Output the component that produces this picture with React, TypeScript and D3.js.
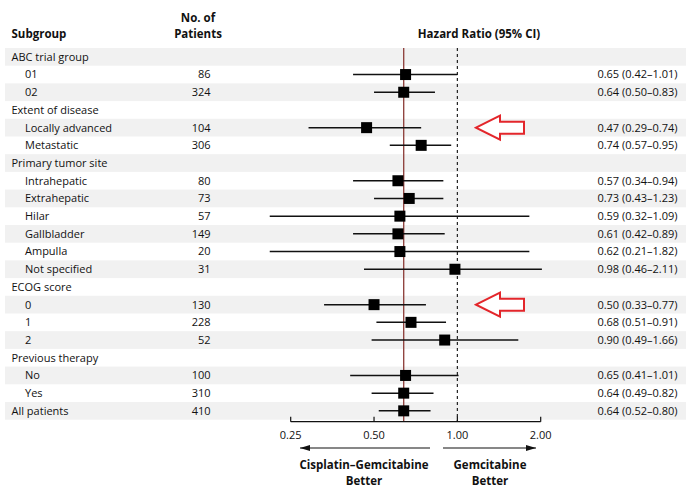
import React from "react";
import * as d3 from "d3";

const labels = [
  "ABC trial group", "01", "02",
  "Extent of disease", "Locally advanced", "Metastatic",
  "Primary tumor site", "Intrahepatic", "Extrahepatic", "Hilar", "Gallbladder", "Ampulla", "Not specified",
  "ECOG score", "0", "1", "2",
  "Previous therapy", "No", "Yes",
  "All patients",
];
const isHeader = [true, false, false, true, false, false, true, false, false, false, false, false, false, true, false, false, false, true, false, false, true];
const patients = ["", "86", "324", "", "104", "306", "", "80", "73", "57", "149", "20", "31", "", "130", "228", "52", "", "100", "310", "410"];
const hr = [null, 0.65, 0.64, null, 0.47, 0.74, null, 0.61, 0.67, 0.62, 0.61, 0.62, 0.98, null, 0.50, 0.68, 0.90, null, 0.65, 0.64, 0.64];
const lo = [null, 0.42, 0.50, null, 0.29, 0.57, null, 0.42, 0.50, 0.21, 0.42, 0.21, 0.46, null, 0.33, 0.51, 0.49, null, 0.41, 0.49, 0.52];
const hi = [null, 1.0, 0.83, null, 0.74, 0.95, null, 0.89, 0.89, 1.82, 0.90, 1.82, 2.02, null, 0.77, 0.91, 1.66, null, 1.01, 0.82, 0.80];
const hrText = ["", "0.65 (0.42–1.01)", "0.64 (0.50–0.83)", "", "0.47 (0.29–0.74)", "0.74 (0.57–0.95)", "", "0.57 (0.34–0.94)", "0.73 (0.43–1.23)", "0.59 (0.32–1.09)", "0.61 (0.42–0.89)", "0.62 (0.21–1.82)", "0.98 (0.46–2.11)", "", "0.50 (0.33–0.77)", "0.68 (0.51–0.91)", "0.90 (0.49–1.66)", "", "0.65 (0.41–1.01)", "0.64 (0.49–0.82)", "0.64 (0.52–0.80)"];
const ticks = [0.25, 0.5, 1.0, 2.0];
const overallHR = 0.64;
const arrowRows = [4, 14];

const FONT = "'Open Sans', 'Noto Sans', sans-serif";

export default function App() {
  const W = 690, H = 490;
  const top = 48, rowH = 17.7;
  const x = d3.scaleLog().domain([0.25, 2]).range([290.7, 540.7]);
  const y = d3.scaleLinear().domain([0, 1]).range([top, top + rowH]);
  const cy = (i: number) => y(i + 0.5);
  const bottom = y(labels.length);
  const axisY = bottom + 2;
  const sq = 11;

  const redArrow = (i: number) => {
    const c = cy(i);
    const tipX = 476, headX = 500, endX = 524;
    const hh = 12, sh = 6;
    const pts = [
      [tipX, c], [headX, c - hh], [headX, c - sh], [endX, c - sh],
      [endX, c + sh], [headX, c + sh], [headX, c + hh],
    ];
    return (
      <polygon key={"ra" + i} points={pts.map((p) => p.join(",")).join(" ")}
        fill="white" stroke="#e3262b" strokeWidth={2} strokeLinejoin="miter" />
    );
  };

  return (
    <svg width={W} height={H} style={{ display: "block", position: "absolute", left: 0, top: 0 }}
      fontFamily={FONT} fontSize={11} fill="#111">
      <rect width={W} height={H} fill="white" />
      {labels.map((_, i) =>
        i % 2 === 0 ? (
          <rect key={"b" + i} x={5} y={y(i)} width={681} height={rowH} fill="#f1f1f1" />
        ) : null
      )}
      {/* headers */}
      <text x={11.5} y={38} fontWeight="bold" fontSize={11.5}>Subgroup</text>
      <text x={198} y={22} fontWeight="bold" fontSize={11.5} textAnchor="middle">No. of</text>
      <text x={198} y={38} fontWeight="bold" fontSize={11.5} textAnchor="middle">Patients</text>
      <text x={479} y={38} fontWeight="bold" fontSize={11.5} textAnchor="middle">Hazard Ratio (95% CI)</text>

      {/* reference lines */}
      <line x1={x(1)} x2={x(1)} y1={top} y2={axisY} stroke="#222" strokeWidth={1.2} strokeDasharray="3,3" />
      <line x1={x(overallHR)} x2={x(overallHR)} y1={top} y2={axisY} stroke="#8b3a36" strokeWidth={1.3} />

      {labels.map((l, i) => (
        <g key={"r" + i}>
          <text x={isHeader[i] ? 11.5 : 25} y={cy(i)} dy="0.35em">{l}</text>
          <text x={210.5} y={cy(i)} dy="0.35em" textAnchor="end">{patients[i]}</text>
          <text x={677.5} y={cy(i)} dy="0.35em" textAnchor="end">{hrText[i]}</text>
          {hr[i] != null && (
            <g>
              <line x1={x(lo[i] as number)} x2={x(hi[i] as number)} y1={cy(i)} y2={cy(i)} stroke="#111" strokeWidth={1.5} />
              <rect x={x(hr[i] as number) - sq / 2} y={cy(i) - sq / 2} width={sq} height={sq} fill="#000" />
            </g>
          )}
        </g>
      ))}

      {arrowRows.map(redArrow)}

      {/* axis */}
      <line x1={x(0.25)} x2={x(2)} y1={axisY} y2={axisY} stroke="#111" strokeWidth={1.2} />
      {ticks.map((t) => (
        <g key={"t" + t}>
          <line x1={x(t)} x2={x(t)} y1={axisY - 5} y2={axisY} stroke="#111" strokeWidth={1.2} />
          <text x={x(t)} y={axisY + 13} dy="0.35em" textAnchor="middle">{t.toFixed(2)}</text>
        </g>
      ))}

      {/* direction arrows */}
      <defs>
        <marker id="ah" viewBox="0 0 10 6" refX={10} refY={3} markerWidth={10} markerHeight={6} markerUnits="userSpaceOnUse" orient="auto">
          <path d="M0,0 L10,3 L0,6 Z" fill="#111" />
        </marker>
      </defs>
      <line x1={430} x2={300} y1={448} y2={448} stroke="#111" strokeWidth={1.2} markerEnd="url(#ah)" />
      <line x1={443} x2={536} y1={448} y2={448} stroke="#111" strokeWidth={1.2} markerEnd="url(#ah)" />
      <text x={364} y={465} dy="0.35em" textAnchor="middle" fontWeight="bold" fontSize={11.5}>Cisplatin–Gemcitabine</text>
      <text x={364} y={481} dy="0.35em" textAnchor="middle" fontWeight="bold" fontSize={11.5}>Better</text>
      <text x={490} y={465} dy="0.35em" textAnchor="middle" fontWeight="bold" fontSize={11.5}>Gemcitabine</text>
      <text x={490} y={481} dy="0.35em" textAnchor="middle" fontWeight="bold" fontSize={11.5}>Better</text>
    </svg>
  );
}
